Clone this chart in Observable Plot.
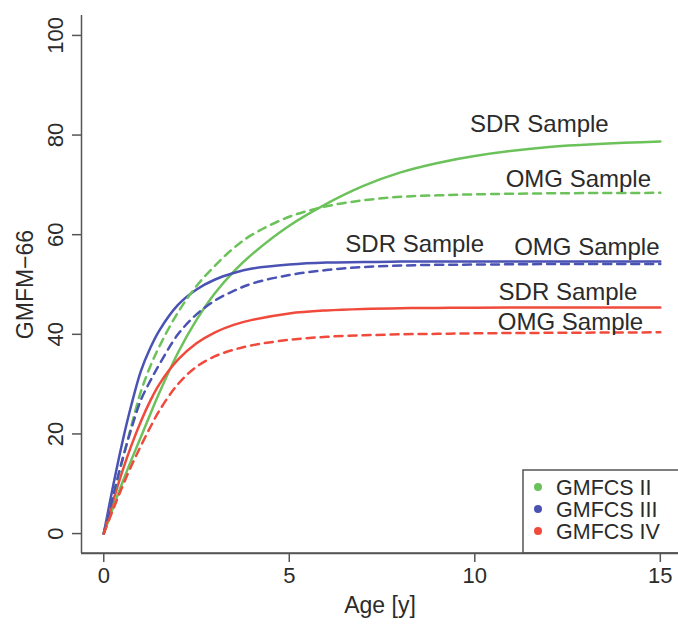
<!DOCTYPE html>
<html><head><meta charset="utf-8">
<script src="https://cdn.jsdelivr.net/npm/d3@7"></script>
<script src="https://cdn.jsdelivr.net/npm/@observablehq/plot@0.6"></script>
<style>
body{margin:0;background:#fff;}
#chart{position:relative;width:678px;height:626px;}
</style>
</head><body><div id="chart"></div>
<script>
// ---- data ----
const ages = [0, 0.25, 0.5, 0.75, 1, 1.25, 1.5, 2, 2.5, 3, 3.5, 4, 5, 6, 7, 8, 9, 10, 12, 15];
const groups = ["GMFCS II", "GMFCS III", "GMFCS IV"];
const samples = ["SDR Sample", "OMG Sample"];
const colors = ["#6cc25a", "#4a52b3", "#f04a3c"];

const gmfcs2SDR = [0, 5.2, 10.2, 14.9, 19.4, 23.9, 28.3, 36.3, 42.9, 48.3, 52.6, 56.1, 61.8, 66.2, 69.8, 72.5, 74.4, 75.8, 77.6, 78.7];
const gmfcs2OMG = [0, 7.4, 14.6, 21.8, 28.5, 33.5, 37.6, 44.4, 49.7, 53.8, 57.3, 60.0, 63.6, 65.7, 66.9, 67.6, 67.9, 68.1, 68.3, 68.4];
const gmfcs3SDR = [0, 9.5, 18.3, 26.0, 32.6, 37.2, 40.8, 45.9, 49.0, 51.0, 52.3, 53.2, 54.0, 54.4, 54.5, 54.6, 54.6, 54.6, 54.6, 54.6];
const gmfcs3OMG = [0, 7.5, 14.8, 21.2, 26.8, 30.6, 34.0, 40.0, 44.0, 46.8, 48.7, 50.2, 51.9, 52.9, 53.5, 53.8, 53.95, 54.0, 54.1, 54.1];
const gmfcs4SDR = [0, 6.5, 12.5, 17.8, 22.5, 26.6, 30.0, 34.9, 38.2, 40.4, 41.9, 42.9, 44.2, 44.8, 45.1, 45.25, 45.3, 45.35, 45.4, 45.4];
const gmfcs4OMG = [0, 4.8, 9.4, 13.7, 17.6, 21.3, 24.7, 30.0, 33.5, 35.6, 36.9, 37.8, 38.9, 39.5, 39.8, 40.0, 40.1, 40.2, 40.3, 40.4];

const xTicks = [0, 5, 10, 15];
const yTicks = [0, 20, 40, 60, 80, 100];

// curve label annotations (age, GMFM-66)
const labelGroups = ["GMFCS II", "GMFCS II", "GMFCS III", "GMFCS III", "GMFCS IV", "GMFCS IV"];
const labelTexts  = ["SDR Sample", "OMG Sample", "SDR Sample", "OMG Sample", "SDR Sample", "OMG Sample"];
const labelAges   = [11.74, 12.79, 8.38, 13.02, 12.51, 12.58];
const labelValues = [82.1, 71.1, 58.0, 57.4, 48.4, 42.4];

// ---- build tables ----
const seriesDefs = [
  [groups[0], samples[0], gmfcs2SDR], [groups[0], samples[1], gmfcs2OMG],
  [groups[1], samples[0], gmfcs3SDR], [groups[1], samples[1], gmfcs3OMG],
  [groups[2], samples[0], gmfcs4SDR], [groups[2], samples[1], gmfcs4OMG]
];
const rows = seriesDefs.flatMap(([g, s, vals]) => vals.map((v, i) => ({age: ages[i], value: v, group: g, sample: s, key: g + "|" + s})));
const labels = labelTexts.map((t, i) => ({text: t, group: labelGroups[i], age: labelAges[i], value: labelValues[i]}));

const xMin = -0.6, xMax = 15.49, yMin = -4, yMax = 104;
const font = "'Liberation Sans', Arial, Helvetica, sans-serif";
const axisColor = "#555";
const textColor = "#2b2b2b";

const plot = Plot.plot({
  width: 678,
  height: 626,
  marginLeft: 81,
  marginRight: 0,
  marginTop: 15,
  marginBottom: 73,
  style: {fontFamily: font, color: textColor, background: "#fff", overflow: "visible"},
  x: {domain: [xMin, xMax], axis: null},
  y: {domain: [yMin, yMax], axis: null},
  color: {domain: groups, range: colors},
  marks: [
    Plot.line(rows.filter(d => d.sample === "SDR Sample"), {x: "age", y: "value", z: "key", stroke: "group", strokeWidth: 2.5, curve: "catmull-rom"}),
    Plot.line(rows.filter(d => d.sample === "OMG Sample"), {x: "age", y: "value", z: "key", stroke: "group", strokeWidth: 2.5, strokeDasharray: "8,6", curve: "catmull-rom"}),
    Plot.text(labels, {x: "age", y: "value", text: "text", fontSize: 24, fill: textColor, textAnchor: "middle", lineAnchor: "middle"}),
    // frame (L shape)
    Plot.ruleX([xMin], {y1: yMin, y2: yMax, stroke: axisColor, strokeWidth: 1.5}),
    Plot.ruleY([yMin], {x1: xMin, x2: xMax, stroke: axisColor, strokeWidth: 1.5}),
    // axes
    Plot.axisX({ticks: xTicks, tickSize: 9, tickPadding: 5, fontSize: 22, label: null, stroke: axisColor, strokeWidth: 1.5}),
    Plot.axisY({ticks: yTicks, tickSize: 9, tickFormat: () => "", label: null, stroke: axisColor, strokeWidth: 1.5}),
    Plot.text(yTicks, {x: xMin, y: d => d, text: d => String(d), rotate: -90, dx: -26, fontSize: 22, fill: textColor, textAnchor: "middle", lineAnchor: "middle"}),
    Plot.text(["GMFM\u221266"], {frameAnchor: "left", dx: -56, rotate: -90, fontSize: 23, fill: textColor, textAnchor: "middle", lineAnchor: "middle"}),
    Plot.text(["Age [y]"], {frameAnchor: "bottom", dy: 52, fontSize: 23, fill: textColor, textAnchor: "middle", lineAnchor: "middle"})
  ]
});

// legend inside the plot (bottom right), boxed
const svg = d3.select(plot);
const color = plot.scale("color");
const lg = svg.append("g").attr("font-family", font).attr("font-size", 21.5).attr("text-anchor", "start");
lg.append("rect").attr("x", 523).attr("y", 470).attr("width", 170).attr("height", 83)
  .attr("fill", "#fff").attr("stroke", axisColor).attr("stroke-width", 1.5);
groups.forEach((g, i) => {
  const cy = 487 + i * 22;
  lg.append("circle").attr("cx", 538).attr("cy", cy).attr("r", 4).attr("fill", color.apply(g));
  lg.append("text").attr("x", 556).attr("y", cy).attr("dy", "0.36em").attr("text-anchor", "start").attr("fill", textColor).text(g);
});
// redraw bottom frame line on top of legend box
svg.append("line").attr("x1", 81).attr("x2", 678).attr("y1", 553).attr("y2", 553).attr("stroke", axisColor).attr("stroke-width", 1.5);

document.getElementById("chart").appendChild(plot);
</script>
</body></html>
